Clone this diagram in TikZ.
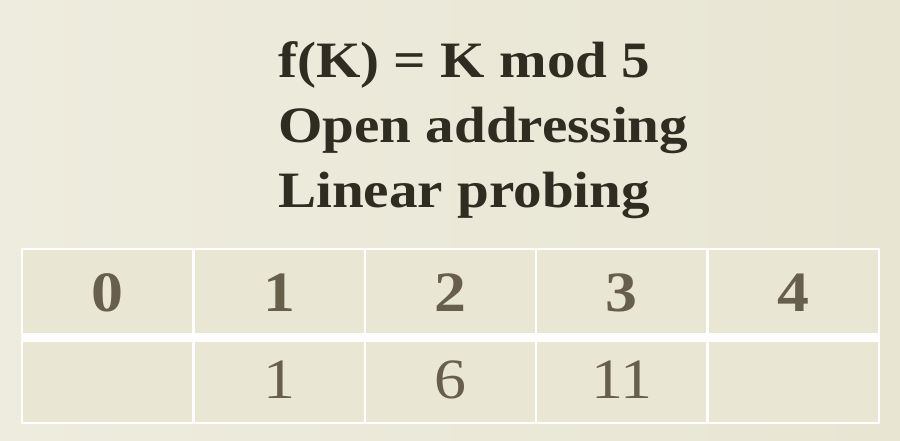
\documentclass[tikz,border=0pt]{standalone}
\usepackage{fontspec}
\setmainfont{Liberation Serif}[FakeStretch=1.12]
\usetikzlibrary{positioning}
\definecolor{bgleft}{HTML}{EEECDE}
\definecolor{bgright}{HTML}{E8E5D3}
\definecolor{cellfill}{HTML}{E9E6D3}
\definecolor{titleink}{HTML}{2F2C22}
\definecolor{digitink}{HTML}{675E4C}
\tikzset{
    every node/.style={align=center,},
    title/.style={anchor=base west,inner sep=0pt,text=titleink,font=\fontsize{51}{60}\selectfont\bfseries,},
    cell/.style={draw=white,line width=2.5pt,fill=cellfill,minimum width=171.4pt,minimum height=87pt,inner sep=0pt,text=digitink,},
    head/.style={cell,font=\fontsize{57}{60}\selectfont\bfseries,},
    slot/.style={cell,font=\fontsize{57}{60}\selectfont,},
}

\begin{document}
\begin{tikzpicture}[x=1pt,y=1pt]
                \shade[left color=bgleft,right color=bgright] (0,0) rectangle (900,440);
                \useasboundingbox (0,0) rectangle (900,440);

                \node[title] (hash) at (278, 362) {f(K) = K mod 5};
                \node[title] (method) at (278, 297) {Open addressing};
                \node[title] (probe) at (278, 233) {Linear probing};

                \node[head] (h0) at (107.7, 147.5) {0};
                \node[head] (h1) at (279.1, 147.5) {1};
                \node[head] (h2) at (450.5, 147.5) {2};
                \node[head] (h3) at (621.9, 147.5) {3};
                \node[head] (h4) at (793.3, 147.5) {4};

                \node[slot] (s0) at (107.7, 60.5) {};
                \node[slot] (s1) at (279.1, 60.5) {1};
                \node[slot] (s2) at (450.5, 60.5) {6};
                \node[slot] (s3) at (621.9, 60.5) {11};
                \node[slot] (s4) at (793.3, 60.5) {};

                \draw[white,line width=8.5pt] (h0.south west) to (h4.south east);
            \end{tikzpicture}
\end{document}
